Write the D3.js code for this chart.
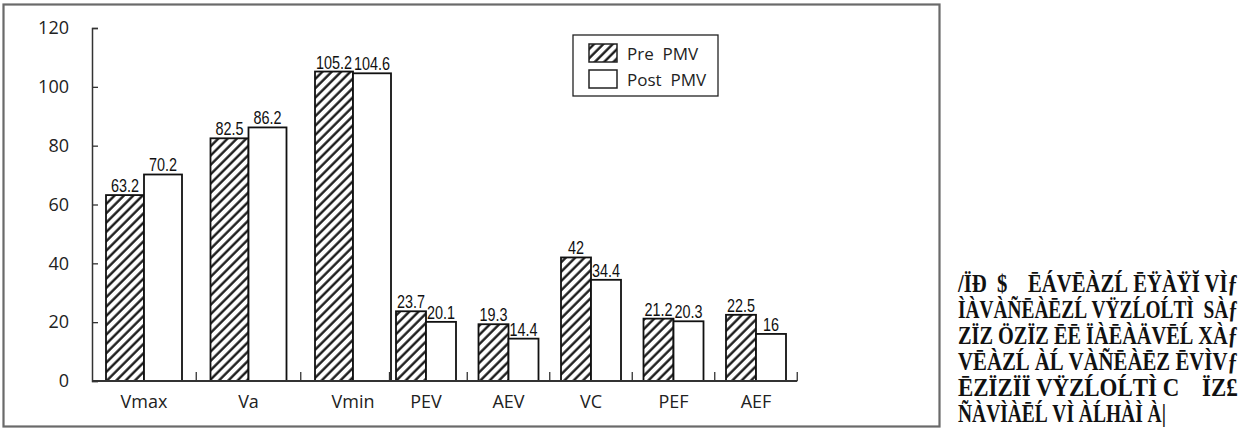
<!DOCTYPE html>
<html>
<head>
<meta charset="utf-8">
<script src="https://cdn.jsdelivr.net/npm/d3@7"></script>
<style>
  body { margin: 0; background: #fff; }
  svg { display: block; }
</style>
</head>
<body>
<svg id="canvas" width="1254" height="430"></svg>
<script>
const categories = ['Vmax', 'Va', 'Vmin', 'PEV', 'AEV', 'VC', 'PEF', 'AEF'];
const preValues = [63.2, 82.5, 105.2, 23.7, 19.3, 42, 21.2, 22.5];
const postValues = [70.2, 86.2, 104.6, 20.1, 14.4, 34.4, 20.3, 16];
const seriesNames = ['Pre  PMV', 'Post  PMV'];
const yTicks = [0, 20, 40, 60, 80, 100, 120];
// garbled caption text beside the figure (kept as in the source page)
const sideLines = [
	'/ÏĐ  $    ĒÁVĒÀZĹ ĒŸÀŸĬ VÌƒ',
	'ÌÀVÀÑĒÀĒZĹ VŸZĹOĹTÌ  SÀƒ',
	'ZÏZ ÖZÏZ ĒĒ ÏÀĒÀÄVĒĹ XÀƒ',
	'VĒÀZĹ ÀĹ VÀÑĒÀĒZ ĒVÌVƒ',
	'ĒZÏZÏÏ VŸZĹOĹTÌ C    ÏZ£',
	'ÑÀVÌÀĒĹ VÌ ÀĹHÀÌ À|'
];

const svg = d3.select('#canvas');
const sans = "'Open Sans', 'DejaVu Sans', sans-serif";
const narrow = "'Liberation Sans', Arial, sans-serif";

// hatch pattern
const defs = svg.append('defs');
const pat = defs.append('pattern')
	.attr('id', 'hatch')
	.attr('patternUnits', 'userSpaceOnUse')
	.attr('width', 6.6)
	.attr('height', 6.6)
	.attr('patternTransform', 'rotate(45)');
pat.append('rect').attr('width', 6.6).attr('height', 6.6).attr('fill', '#fff');
pat.append('line')
	.attr('x1', 1.5).attr('y1', 0).attr('x2', 1.5).attr('y2', 6.6)
	.attr('stroke', '#111').attr('stroke-width', 2.3);

// outer frame
svg.append('rect')
	.attr('x', 3.5).attr('y', 4.5)
	.attr('width', 936).attr('height', 422)
	.attr('fill', 'none')
	.attr('stroke', '#6a6a6a')
	.attr('stroke-width', 2.2);

const y = d3.scaleLinear().domain([0, 120]).range([381, 28]);
const x = d3.scaleLinear().domain([0, 2, 3, 7]).range([144, 353, 426, 756]);
const barW = d3.scaleLinear().domain([2, 3]).range([38, 30]).clamp(true);

// y axis
const yAxis = svg.append('g')
	.attr('transform', 'translate(92,0)')
	.call(d3.axisLeft(y).tickValues(yTicks).tickSizeInner(-6).tickSizeOuter(-6).tickPadding(23));
yAxis.select('.domain').attr('stroke', '#333').attr('stroke-width', 1.5);
yAxis.selectAll('.tick line').attr('stroke', '#333').attr('stroke-width', 1.3);
yAxis.selectAll('.tick text')
	.attr('font-family', sans)
	.attr('font-size', 18)
	.attr('fill', '#222');

// bars
const data = categories.map((c, i) => ({ c, i, pre: preValues[i], post: postValues[i] }));

const groups = svg.selectAll('g.grp')
	.data(data)
	.enter()
	.append('g')
	.attr('class', 'grp');

groups.append('rect')
	.attr('x', (d) => x(d.i) - barW(d.i))
	.attr('y', (d) => y(d.pre))
	.attr('width', (d) => barW(d.i))
	.attr('height', (d) => y(0) - y(d.pre))
	.attr('fill', 'url(#hatch)')
	.attr('stroke', '#111')
	.attr('stroke-width', 1.8);

groups.append('rect')
	.attr('x', (d) => x(d.i))
	.attr('y', (d) => y(d.post))
	.attr('width', (d) => barW(d.i))
	.attr('height', (d) => y(0) - y(d.post))
	.attr('fill', '#fff')
	.attr('stroke', '#111')
	.attr('stroke-width', 1.8);

// value labels, squeezed to look condensed
groups.append('text')
	.attr('transform', (d) => `translate(${x(d.i) - barW(d.i) / 2},${y(d.pre) - 3}) scale(0.8,1)`)
	.attr('text-anchor', 'middle')
	.attr('font-family', narrow)
	.attr('font-size', 18)
	.attr('fill', '#111')
	.text((d) => d.pre);

groups.append('text')
	.attr('transform', (d) => `translate(${x(d.i) + barW(d.i) / 2},${y(d.post) - 3}) scale(0.8,1)`)
	.attr('text-anchor', 'middle')
	.attr('font-family', narrow)
	.attr('font-size', 18)
	.attr('fill', '#111')
	.text((d) => d.post);

groups.append('text')
	.attr('x', (d) => x(d.i))
	.attr('y', 408)
	.attr('text-anchor', 'middle')
	.attr('font-family', sans)
	.attr('font-size', 18)
	.attr('fill', '#222')
	.text((d) => d.c);

// x axis with boundary ticks
svg.append('line')
	.attr('x1', 92).attr('x2', x(categories.length - 0.5))
	.attr('y1', y(0)).attr('y2', y(0))
	.attr('stroke', '#333').attr('stroke-width', 1.8);
svg.selectAll('line.xtick')
	.data(categories)
	.enter()
	.append('line')
	.attr('class', 'xtick')
	.attr('x1', (d, i) => x(i + 0.5)).attr('x2', (d, i) => x(i + 0.5))
	.attr('y1', y(0)).attr('y2', y(0) - 9)
	.attr('stroke', '#333').attr('stroke-width', 1.3);

// legend
const lg = svg.append('g').attr('transform', 'translate(573,35)');
lg.append('rect')
	.attr('width', 145).attr('height', 61)
	.attr('fill', '#fff').attr('stroke', '#222').attr('stroke-width', 1.3);
lg.selectAll('rect.sw')
	.data(seriesNames)
	.enter()
	.append('rect')
	.attr('class', 'sw')
	.attr('x', 16).attr('y', (d, i) => 9 + i * 26)
	.attr('width', 28).attr('height', 18)
	.attr('fill', (d, i) => i === 0 ? 'url(#hatch)' : '#fff')
	.attr('stroke', '#222').attr('stroke-width', 1.5);
lg.selectAll('text')
	.data(seriesNames)
	.enter()
	.append('text')
	.attr('x', 54).attr('y', (d, i) => 25 + i * 26)
	.attr('font-family', sans)
	.attr('font-size', 17)
	.attr('fill', '#222')
	.style('white-space', 'pre')
	.text((d) => d);

// side text, squeezed horizontally to the column width
svg.selectAll('text.side')
	.data(sideLines)
	.enter()
	.append('text')
	.attr('class', 'side')
	.attr('font-family', "'Liberation Serif', 'DejaVu Serif', serif")
	.attr('font-size', 25)
	.attr('font-weight', 'bold')
	.attr('fill', '#111')
	.style('white-space', 'pre')
	.text((d) => d)
	.attr('transform', function(d, i) {
		const target = i === sideLines.length - 1 ? 208 : 280;
		const len = this.getComputedTextLength();
		return `translate(958,${292 + i * 26}) scale(${target / len},1)`;
	});
</script>
</body>
</html>
